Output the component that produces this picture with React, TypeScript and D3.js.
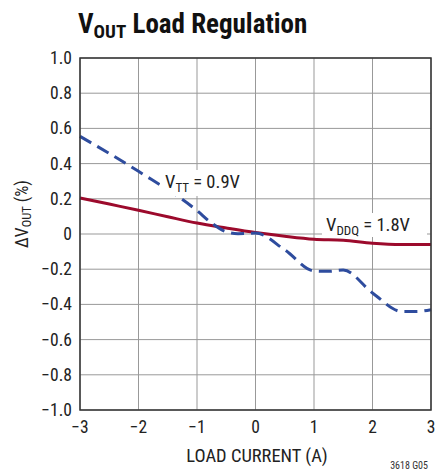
import React from "react";
import * as d3 from "d3";

const xTicks = [-3, -2, -1, 0, 1, 2, 3];
const yTicks = [-1.0, -0.8, -0.6, -0.4, -0.2, 0, 0.2, 0.4, 0.6, 0.8, 1.0];
const yTickLabels = ["\u22121.0", "\u22120.8", "\u22120.6", "\u22120.4", "\u22120.2", "0", "0.2", "0.4", "0.6", "0.8", "1.0"];
const xTickLabels = ["\u22123", "\u22122", "\u22121", "0", "1", "2", "3"];

const vttX = [-3, -2, -1, -0.75, -0.5, -0.3, 0, 0.5, 1, 1.25, 1.5, 2, 2.5, 2.75, 3];
const vttY = [0.555, 0.356, 0.133, 0.062, 0.012, 0.002, 0.005, -0.09, -0.21, -0.212, -0.205, -0.335, -0.44, -0.44, -0.43];

const vddqX = [-3, -2.5, -2, -1.5, -1, -0.5, 0, 0.5, 1, 1.5, 2, 2.5, 3];
const vddqY = [0.205, 0.17, 0.135, 0.098, 0.062, 0.034, 0.008, -0.013, -0.03, -0.036, -0.053, -0.06, -0.06];

const FONT = "'Liberation Sans Narrow', 'Arial Narrow', 'Roboto Condensed', sans-serif";

export default function App() {
  const W = 436, H = 472;
  const L = 80, R = 431, T = 58, B = 410;
  const x = d3.scaleLinear().domain([-3, 3]).range([L, R]);
  const y = d3.scaleLinear().domain([-1, 1]).range([B, T]);
  const line = d3.line<[number, number]>().x(d => x(d[0])).y(d => y(d[1])).curve(d3.curveMonotoneX);
  const vtt = vttX.map((v, i) => [v, vttY[i]] as [number, number]);
  const vddq = vddqX.map((v, i) => [v, vddqY[i]] as [number, number]);
  const red = "#9c0a2c";
  const blue = "#2e4c9e";
  return (
    <svg width={W} height={H} style={{ position: "absolute", left: 0, top: 0 }} fontFamily={FONT}>
      <rect width={W} height={H} fill="#fff" />
      <text x={78} y={33} fontSize={27} fontWeight="bold" fill="#111">
        V<tspan fontSize={19} dy={5}>OUT</tspan><tspan dy={-5}> Load Regulation</tspan>
      </text>
      {xTicks.map(t => (
        <line key={"gx" + t} x1={x(t)} x2={x(t)} y1={T} y2={B} stroke="#999" strokeWidth={1} />
      ))}
      {yTicks.map(t => (
        <line key={"gy" + t} x1={L} x2={R} y1={y(t)} y2={y(t)} stroke="#999" strokeWidth={1} />
      ))}
      <path d={line(vddq) || ""} fill="none" stroke={red} strokeWidth={3} />
      <path d={line(vtt) || ""} fill="none" stroke={blue} strokeWidth={3} strokeDasharray="13,7" />
      <rect x={160} y={170} width={88} height={26} fill="#fff" />
      <text x={165} y={188} fontSize={18.5} fill="#222">
        V<tspan fontSize={13} dy={4}>TT</tspan><tspan dy={-4}> = 0.9V</tspan>
      </text>
      <rect x={322} y={213} width={105} height={24} fill="#fff" />
      <text x={326} y={231} fontSize={18.5} fill="#222">
        V<tspan fontSize={13} dy={4}>DDQ</tspan><tspan dy={-4}> = 1.8V</tspan>
      </text>
      <rect x={L} y={T} width={R - L} height={B - T} fill="none" stroke="#333" strokeWidth={1.5} />
      {yTicks.map((t, i) => (
        <text key={"ty" + t} x={72} y={y(t) + 6} fontSize={17.5} textAnchor="end" fill="#222">{yTickLabels[i]}</text>
      ))}
      {xTicks.map((t, i) => (
        <text key={"tx" + t} x={x(t)} y={433} fontSize={17.5} textAnchor="middle" fill="#222">{xTickLabels[i]}</text>
      ))}
      <text x={257} y={462} fontSize={18.5} textAnchor="middle" fill="#222">LOAD CURRENT (A)</text>
      <text transform="translate(28,214) rotate(-90)" fontSize={17.5} textAnchor="middle" fill="#222">
        ΔV<tspan fontSize={12.5} dy={3}>OUT</tspan><tspan dy={-3}> (%)</tspan>
      </text>
      <text x={428} y={469} fontSize={10} textAnchor="end" fill="#333">3618 G05</text>
    </svg>
  );
}
